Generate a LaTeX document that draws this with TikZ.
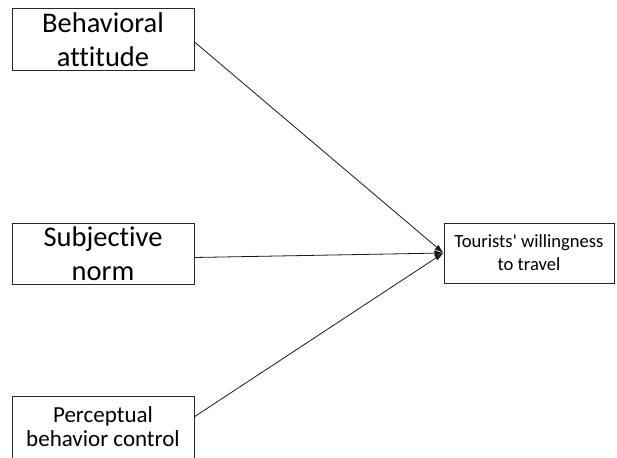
\documentclass[tikz,border=0pt]{standalone}
\usepackage{fontspec}
\newfontfamily\calfont{Carlito}[Ligatures=NoCommon]
\usetikzlibrary{arrows.meta}
\begin{document}
\begin{tikzpicture}[x=1pt,y=-1pt,
  box/.style={draw=black!85, line width=1pt, rectangle, inner sep=0pt, align=center},
  bigtext/.style={font=\calfont\fontsize{28.5}{34}\selectfont},
  midtext/.style={font=\calfont\fontsize{23}{24}\selectfont},
  smalltext/.style={font=\calfont\fontsize{18.6}{23}\selectfont},
  conn/.style={draw=black!90, line width=0.8pt, -{Latex[length=9pt,width=6pt]}}
]
\useasboundingbox[fill=white] (0,0) rectangle (617,457);
\node[box, bigtext, minimum width=182pt, minimum height=62pt] (ba) at (103,40) {Behavioral\\attitude};
\node[box, bigtext, minimum width=182pt, minimum height=61pt] (sn) at (103,253.5) {Subjective\\norm};
\begin{scope}
\clip (0,0) rectangle (617,457);
\node[box, minimum width=182pt, minimum height=80pt, anchor=north] (pbc) at (103,396) {};
\end{scope}
\node[midtext, align=center, inner sep=0pt] (pbct) at (103,427) {Perceptual\\behavior control};
\node[box, smalltext, minimum width=170pt, minimum height=60pt] (tw) at (529,253) {Tourists' willingness\\to travel};
\coordinate (pbcout) at (194,417);
\draw[conn] ([yshift=-2pt]ba.east) -- (tw.west);
\draw[conn] ([yshift=-4pt]sn.east) -- (tw.west);
\draw[conn] (pbcout) -- (tw.west);
\end{tikzpicture}
\end{document}
